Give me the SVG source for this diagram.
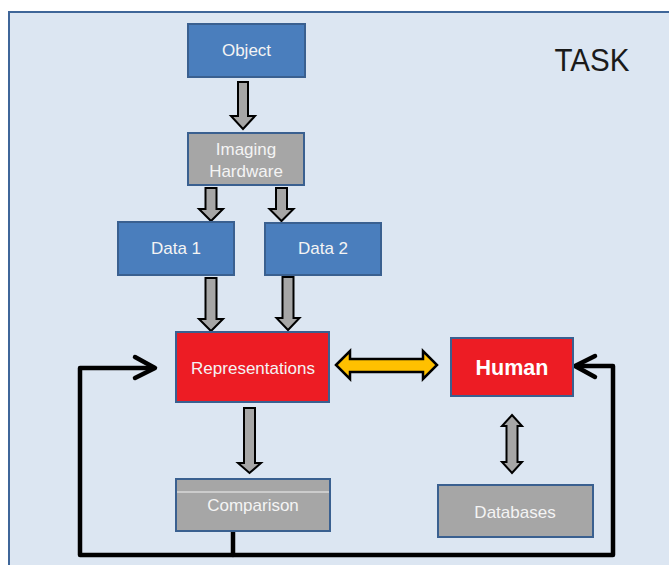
<svg xmlns="http://www.w3.org/2000/svg" width="669" height="565" viewBox="0 0 669 565">
<style>
.box{stroke:#3A6090;stroke-width:2}
.blue{fill:#4A7EBD}
.gray{fill:#A6A6A6}
.red{fill:#ED1C24}
.lbl{font-family:"Liberation Sans",Arial,sans-serif;font-size:17px;fill:#F4F4F4;text-anchor:middle}
.garrow{fill:#A6A6A6;stroke:#000;stroke-width:2;stroke-linejoin:miter}
.fb{fill:none;stroke:#000;stroke-width:4.5;stroke-linejoin:round;stroke-linecap:round}
</style>
<rect x="0" y="0" width="669" height="565" fill="#FFFFFF"/>
<rect x="9" y="12" width="680" height="580" fill="#DCE6F2" stroke="#3F6699" stroke-width="2"/>
<text x="592" y="71" font-family="'Liberation Sans',Arial,sans-serif" font-size="31" fill="#1A1A1A" text-anchor="middle" textLength="75" lengthAdjust="spacingAndGlyphs">TASK</text>

<g id="connectors">
  <polygon class="garrow" points="238,82 248,82 248,116 255,116 243,129 231,116 238,116"/>
  <polygon class="garrow" points="205.5,188 216.5,188 216.5,209 223,209 211,221 199,209 205.5,209"/>
  <polygon class="garrow" points="276,188 287,188 287,209 293.5,209 281.5,221 269.5,209 276,209"/>
  <polygon class="garrow" points="205.5,278 216.5,278 216.5,319 223,319 211,331 199,319 205.5,319"/>
  <polygon class="garrow" points="282.5,277 293.5,277 293.5,318 299.5,318 288,330 276.5,318 282.5,318"/>
  <polygon class="garrow" points="244,408 255,408 255,463 261,463 249.5,473 238,463 244,463"/>
  <polygon points="336,365 350,351 350,359 423,359 423,351 437,365 423,379 423,372 350,372 350,379" fill="#FFC000" stroke="#000" stroke-width="2.5" stroke-linejoin="miter"/>
  <polygon class="garrow" points="512,415 522,426 517.5,426 517.5,462 522,462 512,473 502,462 506.5,462 506.5,426 502,426"/>
  <path class="fb" d="M233,531 V555 H80 V368 H154"/>
  <path class="fb" d="M135,357 L155,368 L135,378"/>
  <path class="fb" d="M233,555 H613 V366 H576"/>
  <path class="fb" d="M595,356 L575,366 L595,377"/>
</g>

<g id="object">
  <rect class="box blue" x="188" y="24" width="117" height="53"/>
  <text class="lbl" x="246.5" y="56">Object</text>
</g>
<g id="imaging-hardware">
  <rect class="box gray" x="188" y="133" width="116" height="52"/>
  <text class="lbl" x="246" y="155">Imaging</text>
  <text class="lbl" x="246" y="177">Hardware</text>
</g>
<g id="data1">
  <rect class="box blue" x="118" y="222" width="116" height="53"/>
  <text class="lbl" x="176" y="254">Data 1</text>
</g>
<g id="data2">
  <rect class="box blue" x="265" y="223" width="116" height="52"/>
  <text class="lbl" x="323" y="254">Data 2</text>
</g>
<g id="representations">
  <rect class="box red" x="176" y="332" width="153" height="70"/>
  <text class="lbl" x="253" y="374">Representations</text>
</g>
<g id="human">
  <rect class="box red" x="451" y="338" width="122" height="58"/>
  <text x="512" y="375" font-family="'Liberation Sans',Arial,sans-serif" font-size="21.5" font-weight="bold" fill="#FFFFFF" text-anchor="middle">Human</text>
</g>
<g id="comparison">
  <rect class="box gray" x="176" y="479" width="154" height="52"/>
  <line x1="177" y1="492" x2="329" y2="492" stroke="#F2F2F2" stroke-width="1"/>
  <text class="lbl" x="253" y="511">Comparison</text>
</g>
<g id="databases">
  <rect class="box gray" x="438" y="485" width="155" height="52"/>
  <text class="lbl" x="515" y="518">Databases</text>
</g>
</svg>
